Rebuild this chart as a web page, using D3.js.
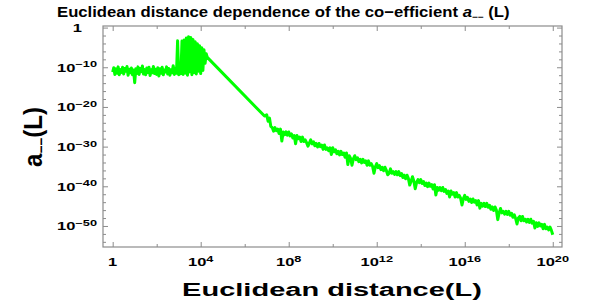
<!DOCTYPE html>
<html>
<head>
<meta charset="utf-8">
<script src="https://cdn.jsdelivr.net/npm/d3@7"></script>
<style>
  body { margin: 0; background: #fff; }
  text { font-family: "Liberation Sans", Arial, sans-serif; font-weight: bold; fill: #000; }
</style>
</head>
<body>
<div id="chart"></div>
<script>
// values are exponents: L = 10^logL, a = 10^logA

// noisy plateau, sampled from L = 1 upward
var plateauStart = 0, plateauStep = 0.05;
var plateauLogA = [-11.2, -10.1, -11.8, -10.4, -11.5, -9.9, -11.9, -10.6, -11.3, -10.0,
  -11.7, -10.3, -11.0, -9.8, -12.0, -10.5, -11.4, -10.2, -11.9, -10.7,
  -13.9, -10.4, -11.6, -9.9, -11.8, -10.3, -11.1, -9.7, -11.7, -10.6,
  -11.9, -10.2, -11.3, -10.0, -12.1, -10.6, -11.4, -9.8, -11.6, -10.5,
  -11.8, -10.1, -12.2, -10.4, -11.5, -10.0, -11.9, -10.7, -11.2, -9.9,
  -11.7, -10.3, -12.0, -10.6, -11.4, -9.6, -11.8, -10.2, -11.5, -3.3,
  -11.9, -10.4, -11.6];

// burst just below L = 10^4
var burstStart = 3.15, burstStep = 0.05;
var burstLogA = [-3.4, -11.8, -3.1, -11.5, -2.6, -12.0, -2.3, -11.2, -2.5, -11.9,
  -3.0, -11.4, -3.6, -11.7, -4.1, -11.0, -4.6, -11.6, -5.1, -10.8,
  -5.6, -9.0, -6.6];

// steep clean fall
var declineLogL = [4.3, 6.9];
var declineLogA = [-7.5, -22.3];

// slow noisy tail up to 10^20
var tailStart = 7.0, tailStep = 0.0625;
var tailLogA = [
  -22.0, -23.6, -22.8, -24.9, -25.2, -26.1, -25.2, -26.0, -25.6, -26.7,
  -25.6, -28.6, -26.3, -27.0, -26.3, -27.1, -26.3, -27.3, -26.8, -27.8,
  -27.2, -29.3, -27.2, -28.0, -27.6, -28.7, -27.6, -28.7, -28.3, -29.0,
  -29.9, -29.1, -28.3, -29.3, -28.8, -29.8, -29.2, -30.1, -29.2, -30.0,
  -29.6, -30.7, -29.6, -30.7, -30.3, -31.0, -30.3, -32.0, -30.3, -31.3,
  -30.8, -31.8, -31.2, -32.1, -31.2, -32.0, -31.6, -32.7, -31.6, -34.5,
  -32.3, -33.0, -34.7, -33.1, -32.3, -33.3, -32.8, -33.8, -33.2, -34.1,
  -33.2, -34.0, -33.6, -34.7, -33.6, -34.7, -34.3, -35.0, -36.7, -35.1,
  -34.3, -35.3, -34.8, -35.8, -35.2, -36.1, -35.2, -36.0, -37.1, -36.7,
  -35.6, -36.7, -36.3, -37.0, -36.3, -37.1, -36.3, -37.3, -36.8, -37.8,
  -37.2, -38.1, -37.2, -38.0, -39.7, -38.7, -37.6, -38.7, -40.6, -39.0,
  -38.3, -39.1, -38.3, -39.3, -38.8, -39.8, -39.2, -40.1, -39.2, -40.0,
  -39.6, -40.7, -39.6, -42.2, -40.3, -41.0, -40.3, -41.1, -40.3, -41.3,
  -40.8, -41.8, -41.2, -42.7, -41.2, -42.0, -41.6, -42.7, -41.6, -42.7,
  -42.3, -43.0, -44.7, -43.1, -42.3, -43.3, -42.8, -43.8, -43.2, -44.1,
  -43.2, -44.0, -43.6, -44.7, -43.6, -45.5, -44.3, -45.0, -44.3, -45.1,
  -44.3, -45.3, -44.8, -45.8, -45.2, -46.1, -45.2, -46.0, -48.4, -46.7,
  -45.6, -46.7, -46.3, -47.0, -46.3, -47.1, -46.3, -47.3, -46.8, -47.8,
  -47.2, -48.1, -49.5, -48.0, -47.6, -48.7, -47.6, -48.7, -48.3, -49.0,
  -48.3, -49.1, -48.3, -49.3, -48.8, -50.5, -49.2, -50.1, -49.2, -50.0,
  -49.6, -50.7, -49.6, -50.7, -50.3, -51.0, -50.3, -51.1, -52.2];

// ticks
var xTickExp = [0, 4, 8, 12, 16, 20];
var xMinorExp = [2, 6, 10, 14, 18];
var yTickExp = [0, -10, -20, -30, -40, -50];
var yMinorExp = [-2, -4, -6, -8, -12, -14, -16, -18, -22, -24, -26, -28,
  -32, -34, -36, -38, -42, -44, -46, -48, -52, -54];

var titleText = "Euclidean distance dependence of the co\u2212efficient ";
var xLabelText = "Euclidean distance(L)";

// build the points
var pts = [];
plateauLogA.forEach(function(e, i) { pts.push([plateauStart + i * plateauStep, e]); });
burstLogA.forEach(function(e, i) { pts.push([burstStart + i * burstStep, e]); });
declineLogA.forEach(function(e, i) { pts.push([declineLogL[i], e]); });
tailLogA.forEach(function(e, i) { pts.push([tailStart + i * tailStep, e]); });

var width = 612, height = 306;
var frame = {left: 103, right: 562, top: 26, bottom: 247};
var SX = 1.5; // text in the picture is stretched sideways

var svg = d3.select("#chart").append("svg")
  .attr("width", width)
  .attr("height", height);

var x = d3.scaleLog()
  .domain([Math.pow(10, -0.44), Math.pow(10, 20.42)])
  .range([frame.left, frame.right]);

var y = d3.scaleLog()
  .domain([Math.pow(10, 0.4), Math.pow(10, -55.3)])
  .range([frame.top, frame.bottom]);

var p10 = function(e) { return Math.pow(10, e); };

// data line
svg.append("path")
  .datum(pts)
  .attr("fill", "none")
  .attr("stroke", "#00ff00")
  .attr("stroke-width", 3)
  .attr("stroke-linejoin", "round")
  .attr("d", d3.line()
    .x(function(d) { return x(p10(d[0])); })
    .y(function(d) { return y(p10(d[1])); }));

// frame
svg.append("rect")
  .attr("x", frame.left)
  .attr("y", frame.top)
  .attr("width", frame.right - frame.left)
  .attr("height", frame.bottom - frame.top)
  .attr("fill", "none")
  .attr("stroke", "#8c8c8c")
  .attr("stroke-width", 1.2);

// ticks on all four sides, pointing inward
function tickAxis(axisFn, scale, vals, size, tx, ty) {
  var g = svg.append("g")
    .attr("transform", "translate(" + tx + "," + ty + ")")
    .call(axisFn(scale).tickValues(vals.map(p10)).tickSizeInner(-size).tickSizeOuter(0).tickFormat(""));
  g.select(".domain").remove();
  g.selectAll(".tick line").attr("stroke", "#8c8c8c").attr("stroke-width", 1);
}
tickAxis(d3.axisBottom, x, xTickExp, 5, 0, frame.bottom);
tickAxis(d3.axisBottom, x, xMinorExp, 3, 0, frame.bottom);
tickAxis(d3.axisTop, x, xTickExp, 5, 0, frame.top);
tickAxis(d3.axisTop, x, xMinorExp, 3, 0, frame.top);
tickAxis(d3.axisLeft, y, yTickExp, 5, frame.left, 0);
tickAxis(d3.axisLeft, y, yMinorExp, 3, frame.left, 0);
tickAxis(d3.axisRight, y, yTickExp, 5, frame.right, 0);
tickAxis(d3.axisRight, y, yMinorExp, 3, frame.right, 0);

// tick labels, 10^n with superscript
function powLabel(px, py, e, anchor) {
  var g = svg.append("g")
    .attr("transform", "translate(" + px + "," + py + ") scale(" + SX + ",1)");
  var t = g.append("text")
    .attr("text-anchor", anchor)
    .style("font-size", "11px");
  if (e === 0) { t.text("1"); return; }
  t.append("tspan").text("10");
  t.append("tspan")
    .attr("dy", -4.5)
    .style("font-size", "8.5px")
    .text(String(e).replace("-", "\u2212"));
}
xTickExp.forEach(function(e) { powLabel(x(p10(e)), 266, e, "middle"); });
yTickExp.forEach(function(e) {
  if (e === 0) powLabel(82, y(1) + 4.4, e, "end");
  else powLabel(97, y(p10(e)) + 4.4, e, "end");
});

// scale factor that fits a text to a measured width
function fitText(t, w) {
  return w / t.node().getBBox().width;
}

// title
var tg = svg.append("g");
var tt = tg.append("text").style("font-size", "15px");
tt.append("tspan").text(titleText);
tt.append("tspan").style("font-style", "italic").text("a");
tt.append("tspan").attr("dy", 3).style("font-size", "9px").text("\u2212\u2212");
tt.append("tspan").attr("dy", -3).text(" (L)");
tg.attr("transform", "translate(57,17) scale(" + fitText(tt, 453) + ",1)");

// x label
var xg = svg.append("g");
var xt = xg.append("text").attr("text-anchor", "middle").style("font-size", "19px").text(xLabelText);
xg.attr("transform", "translate(332,296) scale(" + fitText(xt, 300) + ",1)");

// y label
var yg = svg.append("g");
var yt = yg.append("text").attr("text-anchor", "middle").style("font-size", "25px");
yt.append("tspan").text("a");
yt.append("tspan").attr("dy", 4).style("font-size", "14px").text("\u2212\u2212");
yt.append("tspan").attr("dy", -4).text("(L)");
yg.attr("transform", "translate(42,137) rotate(-90) scale(" + fitText(yt, 60) + ",1)");
</script>
</body>
</html>
